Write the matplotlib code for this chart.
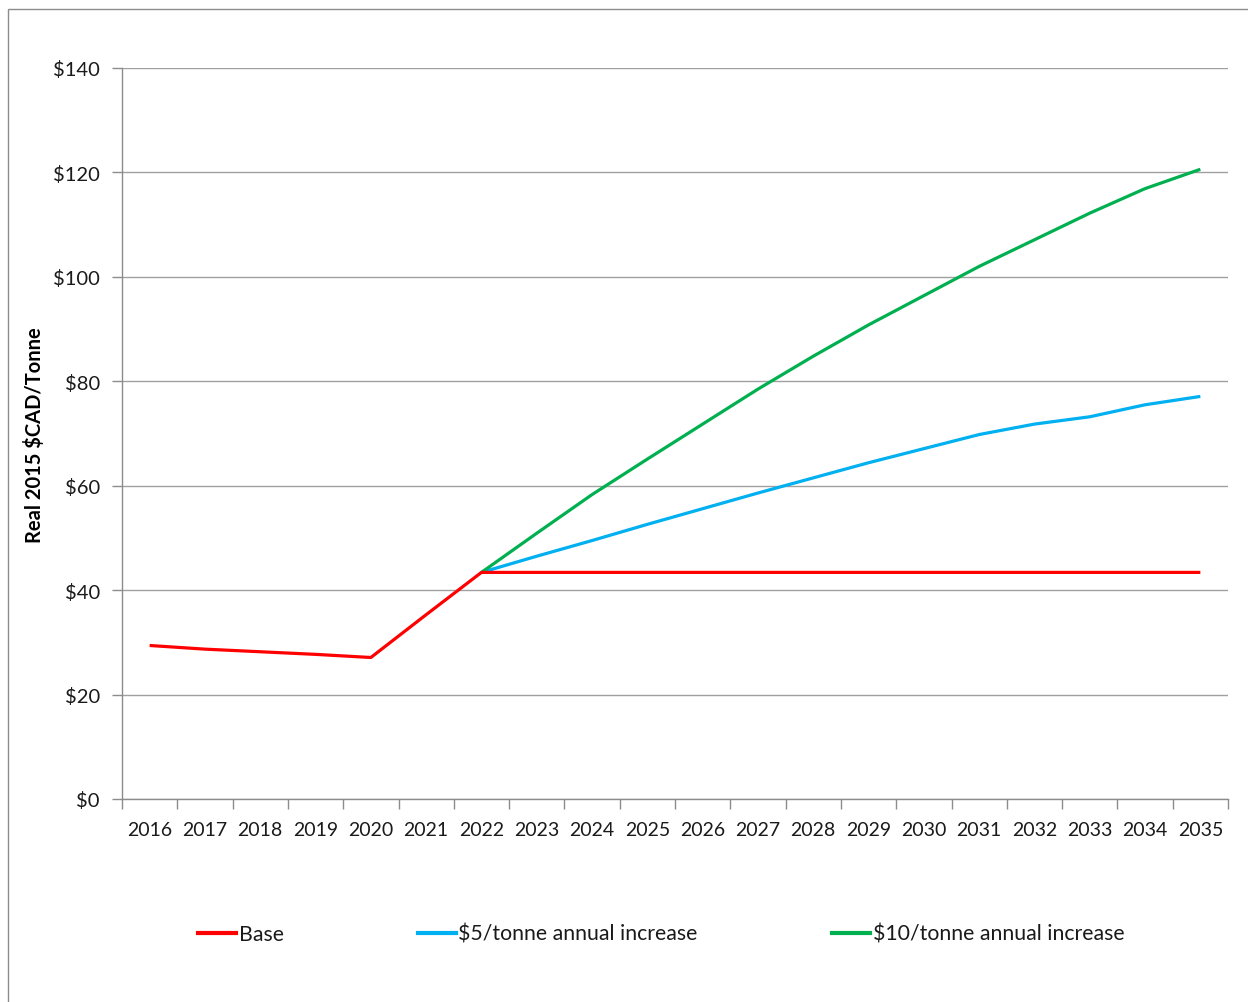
import matplotlib
matplotlib.use("Agg")
import matplotlib.pyplot as plt
from matplotlib.lines import Line2D
from matplotlib.patches import Rectangle

plt.rcParams['font.family'] = ['Lato', 'DejaVu Sans']

years = [str(y) for y in range(2016, 2036)]

base = [29.4, 28.7, 28.2, 27.7, 27.1, 35.3, 43.4, 43.4, 43.4, 43.4,
        43.4, 43.4, 43.4, 43.4, 43.4, 43.4, 43.4, 43.4, 43.4, 43.4]
plus5 = [None] * 6 + [43.4, 46.5, 49.5, 52.6, 55.6, 58.6, 61.5, 64.4,
                      67.1, 69.8, 71.8, 73.2, 75.5, 77.1]
plus10 = [None] * 6 + [43.4, 50.9, 58.3, 65.1, 71.8, 78.5, 84.8, 90.8,
                       96.4, 102.0, 107.1, 112.2, 116.9, 120.6]

series_names = ["Base", "$5/tonne annual increase", "$10/tonne annual increase"]
series_colors = ["#FF0000", "#00B0F0", "#00B050"]
y_ticks = [0, 20, 40, 60, 80, 100, 120, 140]

W, H = 1248, 1003
fig = plt.figure(figsize=(W / 100, H / 100), dpi=100)

# outer chart frame
fig.patches.append(Rectangle((8 / W, -0.01), 1.0, 1 - 10 / H + 0.01,
                             transform=fig.transFigure, fill=False,
                             edgecolor="#8C8C8C", linewidth=1.0))

ax = fig.add_axes([122 / W, 1 - 800 / H, (1228 - 122) / W, (800 - 69) / H])

x = list(range(len(years)))
for vals, name, col in zip([base, plus5, plus10], series_names, series_colors):
    xs = [xi for xi, v in zip(x, vals) if v is not None]
    ys = [v for v in vals if v is not None]
    ax.plot(xs, ys, color=col, linewidth=2.3, solid_joinstyle="round",
            solid_capstyle="butt", zorder=3 if name == "Base" else 2)

ax.set_xlim(-0.5, len(years) - 0.5)
ax.set_ylim(0, 140)

ax.set_yticks(y_ticks)
ax.set_yticklabels([f"\\${v}" for v in y_ticks])
ax.yaxis.grid(True, color="#A0A0A0", linewidth=1.0)
ax.set_axisbelow(True)

ax.set_xticks(x)
ax.set_xticklabels(years)
ax.set_xticks([i - 0.5 for i in range(len(years) + 1)], minor=True)
ax.tick_params(axis="x", which="major", length=0, pad=16, labelsize=14,
               labelcolor="#1a1a1a")
ax.tick_params(axis="x", which="minor", length=7, color="#8C8C8C", width=1)
ax.tick_params(axis="y", which="major", length=7, color="#8C8C8C", width=1,
               pad=9, labelsize=14.5, labelcolor="#1a1a1a")

for s in ["top", "right"]:
    ax.spines[s].set_visible(False)
for s in ["left", "bottom"]:
    ax.spines[s].set_color("#8C8C8C")
    ax.spines[s].set_linewidth(1.0)

fig.text(35 / W, 1 - 435 / H, "Real 2015 $CAD/Tonne".replace("$", "\\$"),
         rotation=90, ha="center", va="center", fontsize=14.5, fontweight="bold")

handles = [Line2D([], [], color=c, linewidth=3) for c in series_colors]
fig.legend(handles, [n.replace("$", "\\$") for n in series_names],
           loc="center left", bbox_to_anchor=(198 / W, 1 - 935 / H), ncol=3,
           frameon=False, fontsize=15.3, handlelength=1.8, handletextpad=0.12,
           columnspacing=6.3, borderpad=0, borderaxespad=0,
           labelcolor="#1a1a1a")

fig.savefig("out.png", dpi=100, facecolor="white")
